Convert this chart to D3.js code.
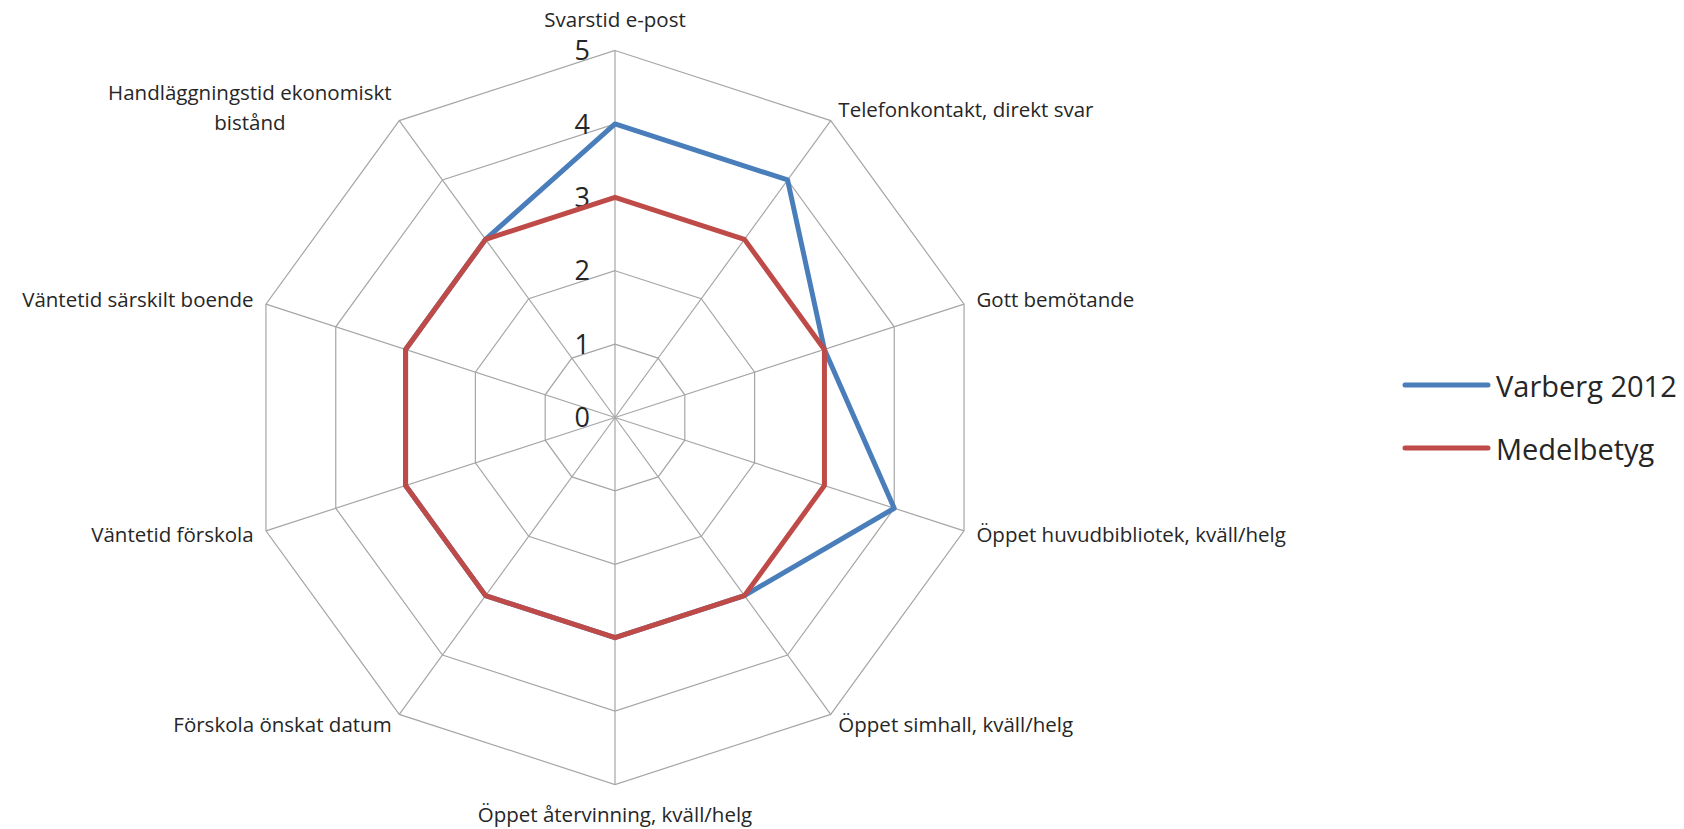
<!DOCTYPE html>
<html>
<head>
<meta charset="utf-8">
<script src="https://cdn.jsdelivr.net/npm/d3@7"></script>
<style>
  body { margin: 0; background: #fff; }
  text { font-family: "Open Sans", "Noto Sans", sans-serif; fill: #262626; }
</style>
</head>
<body>
<svg id="chart"></svg>
<script>
// Categories in clockwise order starting from the top
const categories = [
  "Svarstid e-post",
  "Telefonkontakt, direkt svar",
  "Gott bemötande",
  "Öppet huvudbibliotek, kväll/helg",
  "Öppet simhall, kväll/helg",
  "Öppet återvinning, kväll/helg",
  "Förskola önskat datum",
  "Väntetid förskola",
  "Väntetid särskilt boende",
  "Handläggningstid ekonomiskt\nbistånd"
];
const varbergValues = [4, 4, 3, 4, 3, 3, 3, 3, 3, 3];
const medelValues = [3, 3, 3, 3, 3, 3, 3, 3, 3, 3];
const seriesNames = ["Varberg 2012", "Medelbetyg"];
const seriesColors = ["#4a7ebb", "#be4b48"];
const tickValues = [0, 1, 2, 3, 4, 5];

const width = 1684, height = 829;
const cx = 615, cy = 417.5, R = 367;

const svg = d3.select('#chart')
    .attr('width', width)
    .attr('height', height);

const rScale = d3.scaleLinear().domain([0, 5]).range([0, R]);
const angle = i => i * 2 * Math.PI / categories.length;

const g = svg.append('g')
    .attr('transform', `translate(${cx},${cy})`);

// Grid polygons
g.selectAll('.grid')
    .data(tickValues.slice(1))
  .join('path')
    .attr('class', 'grid')
    .attr('d', t => d3.lineRadial()
        .angle((d, i) => angle(i))
        .radius(() => rScale(t))
        .curve(d3.curveLinearClosed)(categories))
    .attr('fill', 'none')
    .attr('stroke', '#a6a6a6')
    .attr('stroke-width', 1.2);

// Spokes
g.selectAll('.spoke')
    .data(categories)
  .join('line')
    .attr('class', 'spoke')
    .attr('x1', 0).attr('y1', 0)
    .attr('x2', (d, i) => rScale(5) * Math.sin(angle(i)))
    .attr('y2', (d, i) => -rScale(5) * Math.cos(angle(i)))
    .attr('stroke', '#a6a6a6')
    .attr('stroke-width', 1.2);

// Tick labels along the top spoke
g.selectAll('.tick-label')
    .data(tickValues)
  .join('text')
    .attr('class', 'tick-label')
    .attr('x', -25)
    .attr('y', d => -rScale(d))
    .attr('dy', '0.36em')
    .attr('text-anchor', 'end')
    .style('font-size', '27px')
    .text(d => d);

// Series
const series = [varbergValues, medelValues];
const radar = d3.lineRadial()
    .angle((d, i) => angle(i))
    .radius(d => rScale(d))
    .curve(d3.curveLinearClosed);

g.selectAll('.series')
    .data(series)
  .join('path')
    .attr('class', 'series')
    .attr('d', d => radar(d))
    .attr('fill', 'none')
    .attr('stroke', (d, i) => seriesColors[i])
    .attr('stroke-width', 5)
    .attr('stroke-linejoin', 'round');

// Category labels
const labelR = R + 13;
categories.forEach((c, i) => {
  const s = Math.sin(angle(i)), co = Math.cos(angle(i));
  let x = labelR * s, y = -labelR * co;
  const lines = c.split('\n');
  let anchor = Math.abs(s) < 0.01 ? 'middle' : (s > 0 ? 'start' : 'end');
  if (Math.abs(s) < 0.01) y += co > 0 ? -18 : 17;
  const t = g.append('text')
      .attr('class', 'cat-label')
      .style('font-size', '20.5px');
  const lh = 30;
  const y0 = y - (lines.length - 1) * lh / 2 - (lines.length > 1 ? 2 : 0);
  lines.forEach((l, j) => {
    t.append('tspan').attr('x', 0).attr('y', y0 + j * lh).attr('dy', '0.35em').text(l);
  });
  if (lines.length > 1) {
    // multi-line labels are centred on each other, right edge at the anchor
    const w = t.node().getBBox().width;
    const mid = anchor === 'end' ? x - w / 2 : (anchor === 'start' ? x + w / 2 : x);
    t.attr('text-anchor', 'middle');
    t.selectAll('tspan').attr('x', mid);
  } else {
    t.attr('text-anchor', anchor);
    t.select('tspan').attr('x', x);
  }
});

// Legend
const legend = svg.append('g')
    .attr('transform', 'translate(1405,385)');
const items = legend.selectAll('.legend-item')
    .data(seriesNames)
  .join('g')
    .attr('class', 'legend-item')
    .attr('transform', (d, i) => `translate(0,${i * 63})`);
items.append('line')
    .attr('x1', 0).attr('x2', 83)
    .attr('stroke', (d, i) => seriesColors[i])
    .attr('stroke-width', 5)
    .attr('stroke-linecap', 'round');
items.append('text')
    .attr('x', 91)
    .attr('dy', '0.4em')
    .style('font-size', '29px')
    .text(d => d);
</script>
</body>
</html>
